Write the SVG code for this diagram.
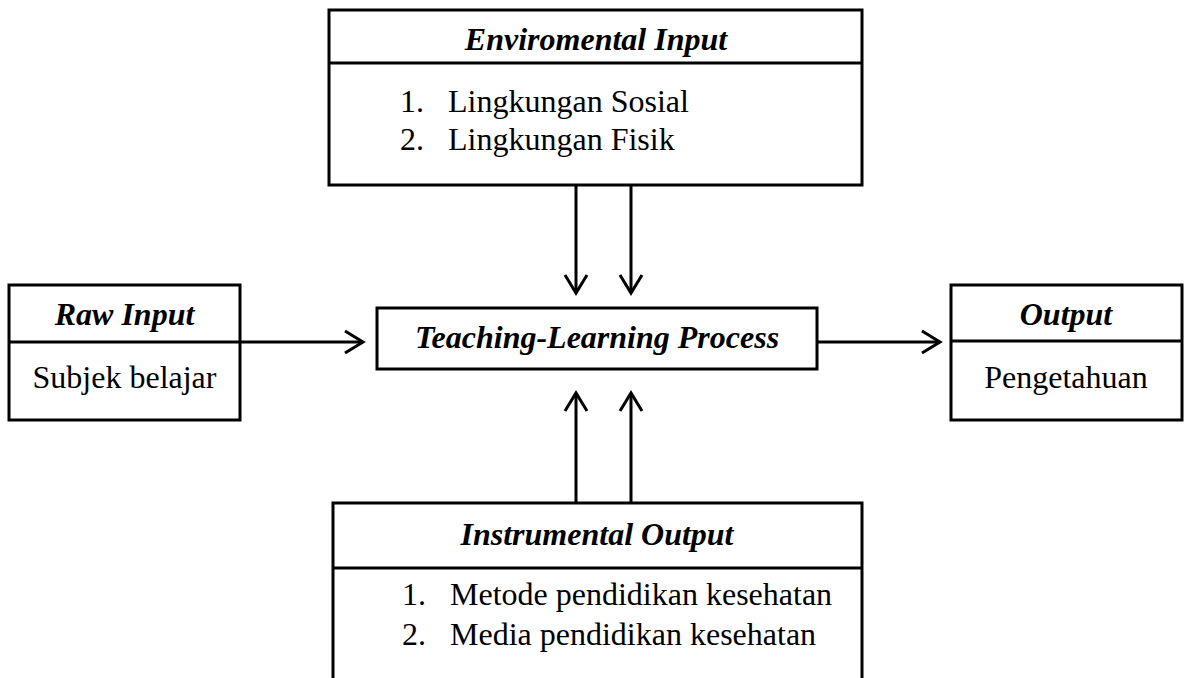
<svg xmlns="http://www.w3.org/2000/svg" width="1184" height="678" viewBox="0 0 1184 678">
<style>
.box{fill:#fff;stroke:#000;stroke-width:3}
.ln{fill:none;stroke:#000;stroke-width:3}
.hd{font-family:"Liberation Serif","Times New Roman",serif;font-size:32px;font-weight:bold;font-style:italic;text-anchor:middle;fill:#000}
.tx{font-family:"Liberation Serif","Times New Roman",serif;font-size:32px;fill:#000}
.c{text-anchor:middle}
</style>
<defs>
<marker id="arr" markerWidth="24" markerHeight="28" refX="20" refY="14" orientation="auto" orient="auto" markerUnits="userSpaceOnUse">
<polyline points="2,3 20,14 2,25" fill="none" stroke="#000" stroke-width="3"/>
</marker>
</defs>
<rect width="1184" height="678" fill="#fff"/>
<g id="connectors">
<line class="ln" x1="576" y1="185" x2="576" y2="293" marker-end="url(#arr)"/>
<line class="ln" x1="631" y1="185" x2="631" y2="293" marker-end="url(#arr)"/>
<line class="ln" x1="576" y1="503" x2="576" y2="393" marker-end="url(#arr)"/>
<line class="ln" x1="631" y1="503" x2="631" y2="393" marker-end="url(#arr)"/>
<line class="ln" x1="240" y1="342" x2="363" y2="342" marker-end="url(#arr)"/>
<line class="ln" x1="817" y1="342" x2="940" y2="342" marker-end="url(#arr)"/>
</g>
<g id="env">
<rect class="box" x="329" y="10" width="533" height="175"/>
<line class="ln" x1="329" y1="63" x2="862" y2="63"/>
<text class="hd" x="596" y="50">Enviromental Input</text>
<text class="tx" x="400" y="112">1.</text>
<text class="tx" x="448" y="112">Lingkungan Sosial</text>
<text class="tx" x="400" y="150">2.</text>
<text class="tx" x="448" y="150">Lingkungan Fisik</text>
</g>
<g id="raw">
<rect class="box" x="9" y="285" width="231" height="135"/>
<line class="ln" x1="9" y1="342" x2="240" y2="342"/>
<text class="hd" x="124.5" y="325">Raw Input</text>
<text class="tx c" x="124.5" y="388">Subjek belajar</text>
</g>
<g id="tlp">
<rect class="box" x="377" y="308" width="440" height="61"/>
<text class="hd" x="597" y="348">Teaching-Learning Process</text>
</g>
<g id="out">
<rect class="box" x="951" y="285" width="231" height="135"/>
<line class="ln" x1="951" y1="341" x2="1182" y2="341"/>
<text class="hd" x="1066" y="325">Output</text>
<text class="tx c" x="1066" y="388">Pengetahuan</text>
</g>
<g id="instr">
<path class="ln" d="M333,682 V503 H862 V682"/>
<line class="ln" x1="333" y1="568" x2="862" y2="568"/>
<text class="hd" x="597" y="545">Instrumental Output</text>
<text class="tx" x="402" y="605">1.</text>
<text class="tx" x="450" y="605">Metode pendidikan kesehatan</text>
<text class="tx" x="402" y="645">2.</text>
<text class="tx" x="450" y="645">Media pendidikan kesehatan</text>
</g>
</svg>
